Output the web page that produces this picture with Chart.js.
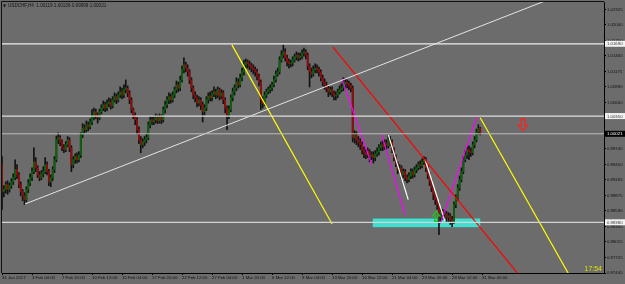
<!DOCTYPE html>
<html>
<head>
<meta charset="utf-8">
<script src="https://cdn.jsdelivr.net/npm/chart.js@4.4.1/dist/chart.umd.min.js"></script>
<style>
  html, body { margin: 0; padding: 0; background: #6c6c6c; }
  canvas { display: block; }
</style>
</head>
<body>
<canvas id="chart" width="625" height="284"></canvas>
<script>
/* =========================
   DATA  (USDCHF H4)
========================= */
const firstOpen = 0.9945;

const closes = [
  0.9895, 0.9899, 0.9908, 0.9899, 0.9906, 0.9913, 0.9921, 0.9936,
  0.9926, 0.9908, 0.9895, 0.9887, 0.9880, 0.9899, 0.9911, 0.9921,
  0.9932, 0.9950, 0.9939, 0.9926, 0.9921, 0.9928, 0.9932, 0.9945,
  0.9932, 0.9913, 0.9921, 0.9936, 0.9954, 0.9991, 0.9995, 0.9987,
  0.9976, 0.9973, 0.9982, 0.9991, 0.9976, 0.9945, 0.9954, 0.9960,
  0.9954, 0.9963, 1.0000, 1.0013, 1.0010, 1.0019, 1.0015, 1.0024,
  1.0032, 1.0043, 1.0037, 1.0032, 1.0043, 1.0050, 1.0056, 1.0050,
  1.0058, 1.0061, 1.0054, 1.0065, 1.0071, 1.0065, 1.0074, 1.0080,
  1.0074, 1.0084, 1.0087, 1.0078, 1.0065, 1.0047, 1.0037, 1.0028,
  1.0010, 0.9991, 0.9982, 0.9987, 0.9991, 0.9995, 1.0019, 1.0028,
  1.0024, 1.0028, 1.0032, 1.0026, 1.0032, 1.0028, 1.0047, 1.0056,
  1.0065, 1.0071, 1.0065, 1.0074, 1.0084, 1.0093, 1.0087, 1.0102,
  1.0121, 1.0130, 1.0124, 1.0117, 1.0102, 1.0087, 1.0074, 1.0069,
  1.0059, 1.0065, 1.0056, 1.0043, 1.0050, 1.0065, 1.0072, 1.0069,
  1.0076, 1.0080, 1.0074, 1.0084, 1.0072, 1.0078, 1.0065, 1.0050,
  1.0037, 1.0047, 1.0069, 1.0080, 1.0087, 1.0098, 1.0093, 1.0106,
  1.0117, 1.0130, 1.0135, 1.0132, 1.0128, 1.0124, 1.0121, 1.0117,
  1.0109, 1.0098, 1.0065, 1.0058, 1.0074, 1.0080, 1.0084, 1.0087,
  1.0093, 1.0102, 1.0113, 1.0117, 1.0139, 1.0148, 1.0154, 1.0143,
  1.0135, 1.0132, 1.0133, 1.0139, 1.0145, 1.0148, 1.0143, 1.0146,
  1.0152, 1.0154, 1.0148, 1.0128, 1.0117, 1.0113, 1.0121, 1.0124,
  1.0121, 1.0117, 1.0106, 1.0098, 1.0093, 1.0087, 1.0080, 1.0084,
  1.0078, 1.0072, 1.0074, 1.0080, 1.0084, 1.0087, 1.0093, 1.0098,
  1.0095, 1.0091, 1.0087, 0.9995, 1.0000, 0.9991, 0.9987, 0.9982,
  0.9973, 0.9967, 0.9963, 0.9969, 0.9960, 0.9963, 0.9958, 0.9965,
  0.9969, 0.9976, 0.9982, 0.9978, 0.9985, 0.9980, 0.9991, 0.9987,
  0.9973, 0.9958, 0.9947, 0.9936, 0.9939, 0.9926, 0.9932, 0.9921,
  0.9917, 0.9924, 0.9932, 0.9926, 0.9936, 0.9939, 0.9945, 0.9943,
  0.9950, 0.9954, 0.9939, 0.9926, 0.9913, 0.9902, 0.9889, 0.9880,
  0.9871, 0.9847, 0.9858, 0.9852, 0.9854, 0.9847, 0.9850, 0.9843,
  0.9839, 0.9871, 0.9884, 0.9902, 0.9917, 0.9932, 0.9954, 0.9963,
  0.9973, 0.9969, 0.9967, 0.9982, 0.9991, 1.0006, 1.0012, 1.0002
];

const highs = [
  0.9960, 0.9906, 0.9913, 0.9915, 0.9911, 0.9919, 0.9928, 0.9954,
  0.9945, 0.9930, 0.9913, 0.9899, 0.9893, 0.9904, 0.9917, 0.9928,
  0.9939, 0.9976, 0.9958, 0.9943, 0.9932, 0.9934, 0.9941, 0.9958,
  0.9950, 0.9936, 0.9926, 0.9941, 0.9960, 0.9998, 1.0004, 0.9999,
  0.9991, 0.9982, 0.9988, 0.9997, 0.9995, 0.9980, 0.9960, 0.9965,
  0.9967, 0.9969, 1.0004, 1.0021, 1.0019, 1.0026, 1.0024, 1.0030,
  1.0047, 1.0050, 1.0048, 1.0041, 1.0048, 1.0056, 1.0063, 1.0061,
  1.0065, 1.0069, 1.0067, 1.0071, 1.0078, 1.0076, 1.0080, 1.0089,
  1.0087, 1.0093, 1.0102, 1.0091, 1.0082, 1.0069, 1.0050, 1.0041,
  1.0032, 1.0015, 0.9997, 0.9993, 0.9997, 1.0002, 1.0024, 1.0034,
  1.0034, 1.0035, 1.0039, 1.0037, 1.0039, 1.0037, 1.0052, 1.0063,
  1.0071, 1.0078, 1.0076, 1.0080, 1.0089, 1.0100, 1.0098, 1.0109,
  1.0128, 1.0143, 1.0135, 1.0130, 1.0121, 1.0106, 1.0091, 1.0080,
  1.0074, 1.0071, 1.0069, 1.0061, 1.0056, 1.0071, 1.0078, 1.0080,
  1.0082, 1.0089, 1.0085, 1.0089, 1.0087, 1.0084, 1.0082, 1.0069,
  1.0054, 1.0054, 1.0074, 1.0087, 1.0093, 1.0106, 1.0104, 1.0113,
  1.0124, 1.0139, 1.0141, 1.0139, 1.0137, 1.0133, 1.0130, 1.0126,
  1.0122, 1.0113, 1.0102, 1.0071, 1.0080, 1.0085, 1.0089, 1.0093,
  1.0098, 1.0109, 1.0119, 1.0124, 1.0145, 1.0156, 1.0167, 1.0160,
  1.0148, 1.0141, 1.0139, 1.0145, 1.0150, 1.0154, 1.0152, 1.0152,
  1.0158, 1.0161, 1.0158, 1.0152, 1.0132, 1.0124, 1.0128, 1.0132,
  1.0130, 1.0126, 1.0121, 1.0111, 1.0104, 1.0098, 1.0091, 1.0089,
  1.0089, 1.0082, 1.0080, 1.0085, 1.0091, 1.0095, 1.0106, 1.0104,
  1.0102, 1.0100, 1.0096, 1.0091, 1.0008, 1.0006, 0.9997, 0.9993,
  0.9987, 0.9978, 0.9973, 0.9976, 0.9973, 0.9969, 0.9969, 0.9971,
  0.9976, 0.9982, 0.9987, 0.9989, 0.9991, 0.9991, 1.0000, 0.9997,
  0.9991, 0.9976, 0.9963, 0.9950, 0.9945, 0.9943, 0.9937, 0.9936,
  0.9926, 0.9930, 0.9937, 0.9937, 0.9941, 0.9945, 0.9950, 0.9952,
  0.9956, 0.9960, 0.9958, 0.9943, 0.9930, 0.9917, 0.9906, 0.9893,
  0.9885, 0.9876, 0.9865, 0.9862, 0.9860, 0.9858, 0.9856, 0.9854,
  0.9849, 0.9876, 0.9889, 0.9908, 0.9924, 0.9939, 0.9960, 0.9971,
  0.9978, 0.9980, 0.9976, 0.9987, 0.9997, 1.0011, 1.0019, 1.0014
];

const lows = [
  0.9862, 0.9885, 0.9892, 0.9890, 0.9894, 0.9901, 0.9908, 0.9917,
  0.9919, 0.9902, 0.9887, 0.9878, 0.9871, 0.9876, 0.9893, 0.9906,
  0.9915, 0.9928, 0.9932, 0.9921, 0.9915, 0.9917, 0.9922, 0.9928,
  0.9926, 0.9906, 0.9904, 0.9915, 0.9930, 0.9950, 0.9984, 0.9980,
  0.9971, 0.9967, 0.9969, 0.9978, 0.9969, 0.9932, 0.9939, 0.9947,
  0.9948, 0.9950, 0.9958, 0.9995, 1.0004, 1.0006, 1.0008, 1.0011,
  1.0019, 1.0028, 1.0030, 1.0022, 1.0028, 1.0039, 1.0045, 1.0043,
  1.0045, 1.0052, 1.0048, 1.0050, 1.0061, 1.0058, 1.0061, 1.0069,
  1.0067, 1.0069, 1.0078, 1.0071, 1.0058, 1.0041, 1.0030, 1.0019,
  1.0002, 0.9984, 0.9967, 0.9976, 0.9980, 0.9985, 0.9991, 1.0013,
  1.0019, 1.0019, 1.0022, 1.0021, 1.0022, 1.0021, 1.0024, 1.0041,
  1.0050, 1.0058, 1.0059, 1.0061, 1.0069, 1.0078, 1.0080, 1.0082,
  1.0098, 1.0115, 1.0117, 1.0109, 1.0095, 1.0080, 1.0067, 1.0061,
  1.0052, 1.0054, 1.0047, 1.0024, 1.0037, 1.0045, 1.0059, 1.0063,
  1.0063, 1.0071, 1.0067, 1.0069, 1.0065, 1.0067, 1.0058, 1.0041,
  1.0010, 1.0030, 1.0043, 1.0063, 1.0074, 1.0082, 1.0087, 1.0089,
  1.0100, 1.0111, 1.0124, 1.0124, 1.0121, 1.0117, 1.0113, 1.0109,
  1.0102, 1.0091, 1.0047, 1.0050, 1.0054, 1.0069, 1.0076, 1.0078,
  1.0082, 1.0089, 1.0098, 1.0109, 1.0113, 1.0135, 1.0143, 1.0137,
  1.0128, 1.0124, 1.0126, 1.0128, 1.0135, 1.0139, 1.0137, 1.0139,
  1.0141, 1.0146, 1.0141, 1.0121, 1.0089, 1.0106, 1.0109, 1.0115,
  1.0115, 1.0109, 1.0100, 1.0091, 1.0085, 1.0080, 1.0071, 1.0074,
  1.0071, 1.0065, 1.0065, 1.0069, 1.0076, 1.0080, 1.0082, 1.0087,
  1.0087, 1.0084, 1.0080, 0.9987, 0.9985, 0.9982, 0.9978, 0.9973,
  0.9965, 0.9958, 0.9956, 0.9958, 0.9950, 0.9954, 0.9948, 0.9952,
  0.9960, 0.9963, 0.9971, 0.9971, 0.9973, 0.9974, 0.9976, 0.9980,
  0.9967, 0.9952, 0.9941, 0.9928, 0.9930, 0.9919, 0.9921, 0.9915,
  0.9911, 0.9913, 0.9919, 0.9920, 0.9922, 0.9930, 0.9935, 0.9937,
  0.9939, 0.9945, 0.9932, 0.9919, 0.9906, 0.9895, 0.9880, 0.9871,
  0.9862, 0.9815, 0.9839, 0.9843, 0.9845, 0.9839, 0.9839, 0.9834,
  0.9830, 0.9836, 0.9865, 0.9878, 0.9897, 0.9913, 0.9928, 0.9950,
  0.9956, 0.9954, 0.9960, 0.9963, 0.9976, 0.9987, 1.0002, 1.0000
];

// time axis: one label every 16 bars
const timeLabels = [
  "31 Jan 2017", "3 Feb 04:00", "7 Feb 20:00", "10 Feb 12:00", "15 Feb 04:00",
  "17 Feb 20:00", "22 Feb 12:00", "27 Feb 04:00", "1 Mar 20:00", "6 Mar 12:00",
  "9 Mar 04:00", "13 Mar 20:00", "16 Mar 12:00", "21 Mar 04:00", "23 Mar 20:00",
  "28 Mar 12:00", "31 Mar 00:00"
];
const barsPerLabel = 16;
const slotCount = 321;   // bars that fit the window, incl. empty space on the right

const priceTicks = [
  0.97440, 0.97725, 0.98015, 0.98300, 0.98590, 0.98875, 0.99165, 0.99450, 0.99740,
  1.00025, 1.00315, 1.00600, 1.00890, 1.01175, 1.01465, 1.01750, 1.02040, 1.02325
];

const headerText = "USDCHF,H4  1.00119 1.00136 0.99999 1.00021";

// drawing objects: [bar index, price]
const levelLines = [1.01690, 1.00350, 0.98380];
const lastPrice = 1.00021;
const trendWhite = [[12.3, 0.9872], [290, 1.0249]];
const yellowA = [[122.6, 1.0167], [176, 0.9835]];
const yellowB = [[255, 1.0032], [302.5, 0.9740]];
const redLine = [[176.5, 1.0163], [275, 0.9743]];
const magentaA = [[181.3, 1.0104], [197.1, 0.9945]];
const magentaB = [[202.5, 1.0000], [214.9, 0.9852]];
const magentaC = [[233.8, 0.9836], [253.3, 1.0034]];
const whiteA = [[206, 1.0000], [216.6, 0.9880]];
const whiteB = [[225.6, 0.9954], [236.2, 0.9840]];
const supportZone = [197.7, 0.9845, 255, 0.9829];
const buyArrow = [231.5, 0.9849];
const sellArrow = [277.8, 1.0019];
const timerText = "17:54";

/* =========================
   BUILD DATASETS
========================= */
const opens = closes.map((c, i) => (i === 0 ? firstOpen : closes[i - 1]));

const wickData = closes.map((c, i) => ({ x: i, y: [lows[i], highs[i]] }));
const bodyData = closes.map((c, i) => ({ x: i, y: [opens[i], c] }));
const bodyColors = closes.map((c, i) => (c >= opens[i] ? "#0c620c" : "#920c0c"));

function segment(points, color, width) {
  return {
    type: "line",
    data: points.map(p => ({ x: p[0], y: p[1] })),
    borderColor: color,
    borderWidth: width,
    pointRadius: 0,
    fill: false,
    tension: 0,
    order: 0
  };
}

const levelColors = ["#eeeeee", "#dedede", "#d4d4d4"];
const lineSets = [
  ...levelLines.map((v, k) => segment([[0, v], [slotCount, v]], levelColors[k], 1.2)),
  segment([[0, lastPrice], [slotCount, lastPrice]], "#bdbdbd", 1),
  segment(trendWhite, "#e4e4e4", 1),
  segment(yellowA, "#ffff00", 1.2),
  segment(yellowB, "#ffff00", 1.2),
  segment(redLine, "#ff0000", 1.2),
  segment(magentaA, "#ff00ff", 1.2),
  segment(magentaB, "#ff00ff", 1.2),
  segment(magentaC, "#ff00ff", 1.2),
  segment(whiteA, "#ffffff", 1.2),
  segment(whiteB, "#ffffff", 1.2)
];

/* =========================
   EXTRA DRAWING (zone, arrows, axis boxes, header)
========================= */
const FONT = "Liberation Sans, Arial, sans-serif";

function drawArrow(ctx, cx, cy, w, h, up, color) {
  const top = cy - h / 2, neck = top + h * 0.45, bottom = cy + h / 2;
  let pts = [[cx, top], [cx + w / 2, neck], [cx + w / 5, neck], [cx + w / 5, bottom],
             [cx - w / 5, bottom], [cx - w / 5, neck], [cx - w / 2, neck]];
  if (!up) pts = pts.map(p => [p[0], 2 * cy - p[1]]);
  ctx.beginPath();
  pts.forEach((p, k) => (k ? ctx.lineTo(p[0], p[1]) : ctx.moveTo(p[0], p[1])));
  ctx.closePath();
  ctx.strokeStyle = color;
  ctx.lineWidth = 1.3;
  ctx.stroke();
}

function priceBox(ctx, area, py, text, bg, fg) {
  ctx.fillStyle = bg;
  ctx.fillRect(area.right + 1, py - 3, 20, 6);
  ctx.fillStyle = fg;
  ctx.font = "4.3px " + FONT;
  ctx.textAlign = "left";
  ctx.textBaseline = "middle";
  ctx.fillText(text, area.right + 3, py + 0.3);
}

const overlay = {
  id: "overlay",
  beforeDraw(chart) {
    const { ctx, width, height } = chart;
    ctx.save();
    ctx.fillStyle = "#6c6c6c";
    ctx.fillRect(0, 0, width, height);
    ctx.restore();
  },
  beforeDatasetsDraw(chart) {
    const { ctx, scales: { x, y } } = chart;
    const x0 = x.getPixelForValue(supportZone[0]);
    const x1 = x.getPixelForValue(supportZone[2]);
    const y0 = y.getPixelForValue(supportZone[1]);
    const y1 = y.getPixelForValue(supportZone[3]);
    ctx.save();
    ctx.fillStyle = "#40e0d0";
    ctx.fillRect(x0, y0, x1 - x0, y1 - y0);
    ctx.restore();
  },
  afterDraw(chart) {
    const { ctx, chartArea: area, scales: { x, y } } = chart;
    ctx.save();

    // frame
    ctx.strokeStyle = "#111";
    ctx.lineWidth = 1;
    ctx.beginPath();
    ctx.moveTo(area.left - 0.5, area.bottom);
    ctx.lineTo(area.left - 0.5, area.top - 0.5);
    ctx.lineTo(area.right, area.top - 0.5);
    ctx.stroke();

    // arrows
    drawArrow(ctx, x.getPixelForValue(buyArrow[0]), y.getPixelForValue(buyArrow[1]), 7, 10, true, "#1fc01f");
    drawArrow(ctx, x.getPixelForValue(sellArrow[0]), y.getPixelForValue(sellArrow[1]), 9, 12, false, "#ff2020");

    // price boxes on the axis
    levelLines.forEach(v => priceBox(ctx, area, y.getPixelForValue(v), v.toFixed(5), "#f2f2f2", "#333"));
    priceBox(ctx, area, y.getPixelForValue(lastPrice), lastPrice.toFixed(5), "#000", "#fff");

    // header
    ctx.fillStyle = "#141414";
    ctx.textBaseline = "middle";
    ctx.textAlign = "left";
    ctx.font = "4px DejaVu Sans";
    ctx.fillText("\u25BC", 3, 5.5);
    ctx.font = "4.6px " + FONT;
    ctx.fillText(headerText, 8, 5.5);

    // bar timer
    ctx.fillStyle = "#e0e000";
    ctx.font = "7px " + FONT;
    ctx.textAlign = "right";
    ctx.textBaseline = "alphabetic";
    ctx.fillText(timerText, area.right - 2, area.bottom - 2);

    ctx.restore();
  }
};

/* =========================
   CHART
========================= */
new Chart(document.getElementById("chart"), {
  type: "bar",
  data: {
    datasets: [
      ...lineSets,
      {
        data: bodyData,
        backgroundColor: bodyColors,
        barThickness: 1.2,
        grouped: false,
        borderWidth: 0,
        order: 1
      },
      {
        data: wickData,
        backgroundColor: "#121212",
        barThickness: 1,
        grouped: false,
        borderWidth: 0,
        order: 2
      }
    ]
  },
  options: {
    responsive: false,
    devicePixelRatio: 1,
    animation: false,
    events: [],
    layout: { padding: { top: 2, left: 2, right: 0, bottom: 0 } },
    plugins: { legend: { display: false }, tooltip: { enabled: false } },
    scales: {
      x: {
        type: "linear",
        min: 0,
        max: slotCount,
        offset: false,
        afterBuildTicks: s => { s.ticks = timeLabels.map((t, k) => ({ value: k * barsPerLabel })); },
        afterFit: s => { s.height = 11; s.paddingLeft = 0; s.paddingRight = 0; },
        ticks: {
          autoSkip: false,
          maxRotation: 0,
          align: "start",
          padding: 0,
          color: "#111",
          font: { size: 4.3, family: FONT },
          callback: (v, k) => timeLabels[k]
        },
        grid: { offset: false, drawOnChartArea: false, drawTicks: true, tickLength: 2, tickColor: "#000" },
        border: { display: true, color: "#000", width: 1 }
      },
      y: {
        type: "linear",
        position: "right",
        min: 0.9744,
        max: 1.02465,
        afterBuildTicks: s => { s.ticks = priceTicks.map(v => ({ value: v })); },
        afterFit: s => { s.width = 21; s.paddingTop = 0; s.paddingBottom = 0; },
        ticks: {
          padding: 1,
          color: "#111",
          font: { size: 4.3, family: FONT },
          callback: v => v.toFixed(5)
        },
        grid: { drawOnChartArea: false, drawTicks: true, tickLength: 2, tickColor: "#000" },
        border: { display: true, color: "#000", width: 1 }
      }
    }
  },
  plugins: [overlay]
});
</script>
</body>
</html>
